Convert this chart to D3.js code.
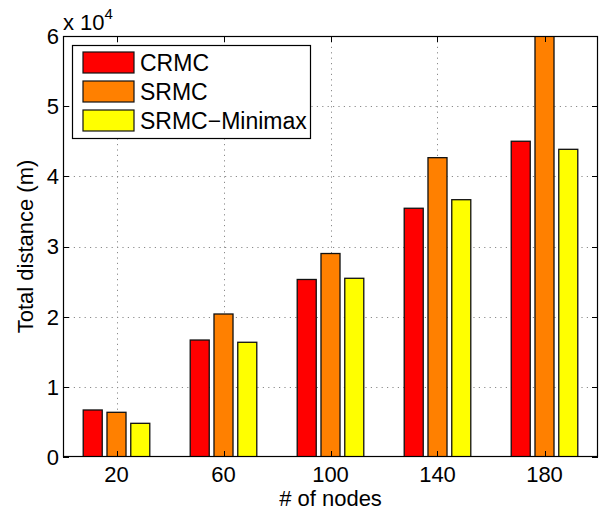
<!DOCTYPE html>
<html><head><meta charset="utf-8">
<script src="https://cdn.jsdelivr.net/npm/d3@7"></script>
<style>body{margin:0;background:#fff}svg{display:block}text{font-family:"Liberation Sans",Arial,Helvetica,sans-serif}</style>
</head><body><svg id="c" width="600" height="513"></svg>
<script>
const categories = [20, 60, 100, 140, 180];
const seriesNames = ["CRMC", "SRMC", "SRMC\u2212Minimax"];
const crmc = [6700, 16670, 25300, 35450, 45000];
const srmc = [6370, 20380, 29000, 42660, 60000];
const minimax = [4800, 16350, 25470, 36670, 43850];
const yTicks = [0, 10000, 20000, 30000, 40000, 50000, 60000];
const colors = ["#ff0000", "#ff8000", "#ffff00"];
const series = [crmc, srmc, minimax];

const L = 63, R = 598, T = 36, B = 457;
const svg = d3.select("#c");
const x = d3.scaleLinear().domain([0, 200]).range([L, R]);
const y = d3.scaleLinear().domain([0, 60000]).range([B, T]);
const FS = 22;

svg.append("defs").append("clipPath").attr("id", "clip")
  .append("rect").attr("x", L).attr("y", T).attr("width", R - L).attr("height", B - T);

// grid
const grid = svg.append("g").attr("stroke", "#8a8a8a").attr("stroke-width", 1).attr("stroke-dasharray", "1.2,4.2");
grid.selectAll("line.v").data(categories).join("line")
  .attr("x1", d => Math.round(x(d)) + 0.5).attr("x2", d => Math.round(x(d)) + 0.5)
  .attr("y1", T).attr("y2", B);
grid.selectAll("line.h").data(yTicks.slice(1, -1)).join("line").attr("class", "h")
  .attr("y1", d => Math.round(y(d)) + 0.5).attr("y2", d => Math.round(y(d)) + 0.5)
  .attr("x1", L).attr("x2", R);

// bars
const step = 40 * (2 / 3) / 3;
const bw = step * 0.8;
const bars = svg.append("g").attr("clip-path", "url(#clip)");
series.forEach((s, i) => {
  bars.selectAll(null).data(s).join("rect")
    .attr("x", (d, j) => x(categories[j] + (i - 1) * step - bw / 2))
    .attr("width", x(bw) - x(0))
    .attr("y", d => y(d))
    .attr("height", d => y(0) - y(d))
    .attr("fill", colors[i])
    .attr("stroke", "#111").attr("stroke-width", 1.3);
});

// axes box
svg.append("rect").attr("x", L + 0.5).attr("y", T + 0.5).attr("width", R - L - 1).attr("height", B - T - 1)
  .attr("fill", "none").attr("stroke", "#000").attr("stroke-width", 1.2);

// ticks (inward)
const tk = 6;
const ax = svg.append("g").attr("stroke", "#000").attr("stroke-width", 1);
categories.forEach(c => {
  const xx = Math.round(x(c)) + 0.5;
  ax.append("line").attr("x1", xx).attr("x2", xx).attr("y1", B).attr("y2", B - tk);
  ax.append("line").attr("x1", xx).attr("x2", xx).attr("y1", T).attr("y2", T + tk);
});
yTicks.forEach(v => {
  const yy = Math.round(y(v)) + 0.5;
  ax.append("line").attr("x1", L).attr("x2", L + tk).attr("y1", yy).attr("y2", yy);
  ax.append("line").attr("x1", R).attr("x2", R - tk).attr("y1", yy).attr("y2", yy);
});

// tick labels
svg.append("g").selectAll("text").data(categories).join("text")
  .attr("x", d => x(d)).attr("y", 482).attr("text-anchor", "middle")
  .attr("font-size", FS).text(d => d);
svg.append("g").selectAll("text").data(yTicks).join("text")
  .attr("x", 59).attr("y", d => y(d)).attr("dy", "0.36em").attr("text-anchor", "end")
  .attr("font-size", FS).text(d => d / 10000);

// exponent label
const ex = svg.append("text").attr("x", 63).attr("y", 30).attr("font-size", FS);
ex.append("tspan").text("x 10");
ex.append("tspan").attr("font-size", 15).attr("dy", -11).text("4");

// axis labels
svg.append("text").attr("x", (L + R) / 2).attr("y", 506).attr("text-anchor", "middle")
  .attr("font-size", FS).text("# of nodes");
svg.append("text").attr("transform", `translate(33,${(T + B) / 2}) rotate(-90)`)
  .attr("text-anchor", "middle").attr("font-size", FS).text("Total distance (m)");

// legend
const lg = svg.append("g");
lg.append("rect").attr("x", 72.5).attr("y", 45.5).attr("width", 238).attr("height", 93)
  .attr("fill", "#fff").attr("stroke", "#000").attr("stroke-width", 1.2);
seriesNames.forEach((n, i) => {
  const cy = 62.5 + i * 29;
  lg.append("rect").attr("x", 83).attr("y", cy - 10.5).attr("width", 51).attr("height", 21)
    .attr("fill", colors[i]).attr("stroke", "#111").attr("stroke-width", 1.2);
  lg.append("text").attr("x", 140).attr("y", cy + 8.5).attr("font-size", 23).text(n);
});
</script></body></html>
